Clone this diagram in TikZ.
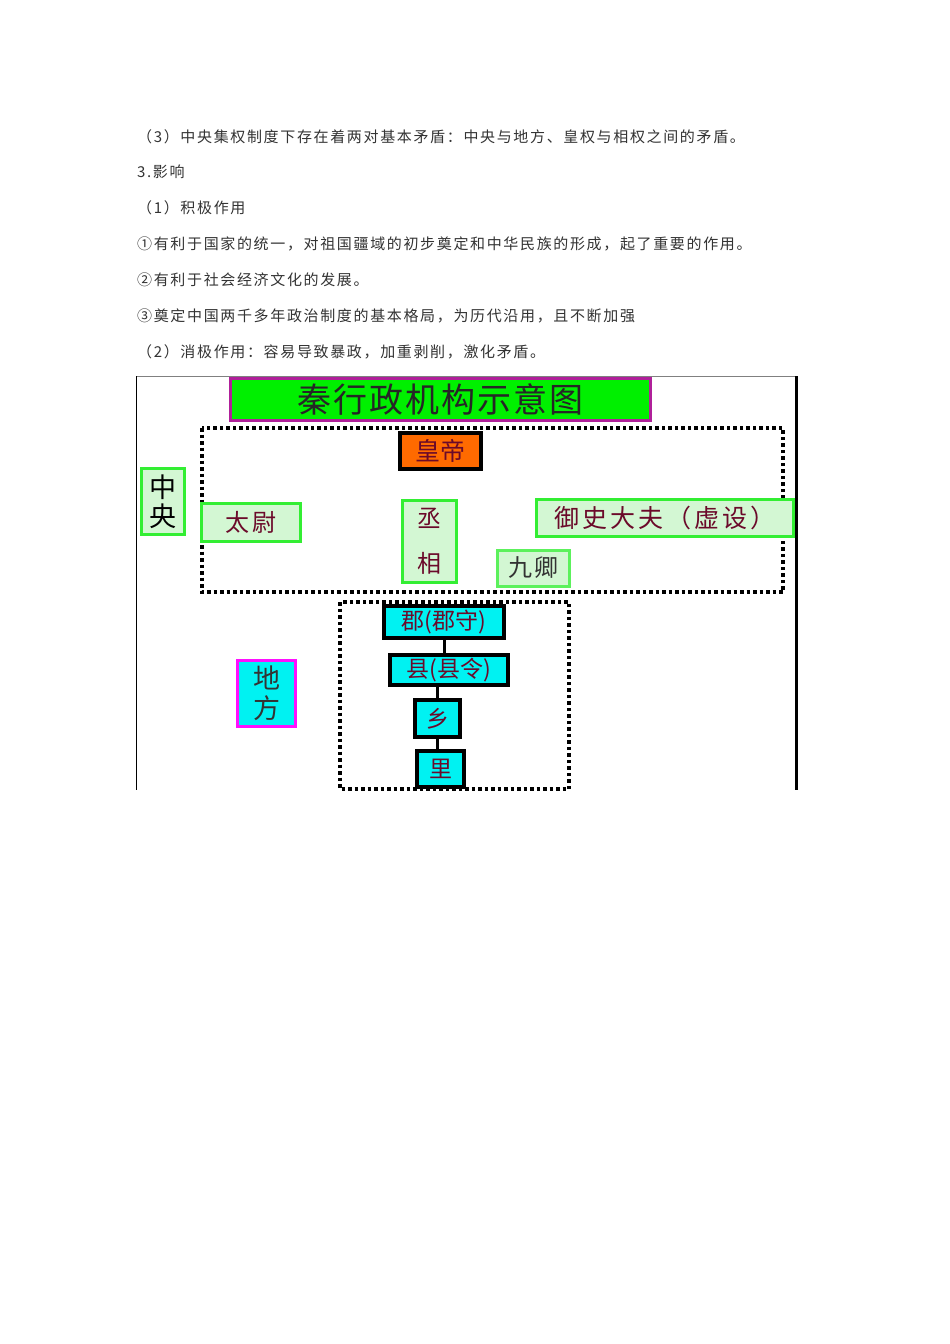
\documentclass[tikz,border=0pt]{standalone}
\usepackage{fontspec}
\setmainfont{Noto Sans CJK SC}
\newfontfamily\cjk{Noto Sans CJK SC}
\newfontfamily\cjkspaced[LetterSpace=11]{Noto Sans CJK SC}
\newfontfamily\cjkwide[LetterSpace=12]{Noto Sans CJK SC}
\newfontfamily\cjktitle[LetterSpace=6]{Noto Sans CJK SC}
\definecolor{maroonx}{HTML}{6B0A2A}
\definecolor{greenb}{HTML}{33EE33}
\definecolor{greenf}{HTML}{D3F7D3}
\definecolor{greentitle}{HTML}{00F000}
\definecolor{purpleb}{HTML}{B0209A}
\definecolor{orangef}{HTML}{FF6A00}
\definecolor{cyanf}{HTML}{00F2F2}
\definecolor{magentab}{HTML}{FF10FF}
\definecolor{textgray}{HTML}{333333}
\begin{document}
\begin{tikzpicture}[x=1pt,y=-1pt,
  para/.style={anchor=base west,inner sep=0pt,font=\cjkspaced\fontsize{15}{16}\selectfont,text=textgray},
  gbox/.style={draw=greenb,fill=greenf,line width=3pt,inner sep=0pt,text=maroonx,font=\cjkwide\fontsize{24}{26}\selectfont,align=center},
  cbox/.style={draw=black,fill=cyanf,line width=3.5pt,inner sep=0pt,text=maroonx,font=\cjk\fontsize{23}{26}\selectfont,align=center},
  dotbox/.style={draw=black,line width=3.5pt,dash pattern=on 3.5pt off 3pt},
  conn/.style={draw=black,line width=3pt}]
\useasboundingbox (0,0) rectangle (950,1344);
\fill[white] (0,0) rectangle (950,1344);
% paragraph text
\node[para] (l1) at (137,142) {（3）中央集权制度下存在着两对基本矛盾：中央与地方、皇权与相权之间的矛盾。};
\node[para] (l2) at (137,177) {3.影响};
\node[para] (l3) at (137,213) {（1）积极作用};
\node[para] (l4) at (137,249) {①有利于国家的统一，对祖国疆域的初步奠定和中华民族的形成，起了重要的作用。};
\node[para] (l5) at (137,285) {②有利于社会经济文化的发展。};
\node[para] (l6) at (137,321) {③奠定中国两千多年政治制度的基本格局，为历代沿用，且不断加强};
\node[para] (l7) at (137,357) {（2）消极作用：容易导致暴政，加重剥削，激化矛盾。};
% frame
\draw[line width=0.8pt,draw=gray] (136,376) -- (796,376);
\draw[line width=0.8pt] (136,376) -- (136,790);
\draw[line width=3pt] (796,376) -- (796,790);
% dotted groups
\draw[dotbox] (202,428) rectangle (783,592);
\draw[dotbox] (340,602) rectangle (569,789);
% title
\node[draw=purpleb,fill=greentitle,line width=3pt,inner sep=0pt,minimum width=420pt,minimum height=42pt,font=\cjktitle\fontsize{34}{36}\selectfont,text=black!85] (title) at (440.5,399.5) {秦行政机构示意图};
% central
\node[draw=black,fill=orangef,line width=4pt,inner sep=0pt,minimum width=81pt,minimum height=36pt,text=maroonx,font=\cjk\fontsize{25}{26}\selectfont] (hd) at (440.5,451) {皇帝};
\node[gbox,minimum width=43pt,minimum height=66pt,text=black,font=\cjk\fontsize{27}{29}\selectfont] (zy) at (163,501.5) {中\\央};
\node[gbox,minimum width=99pt,minimum height=38pt] (tw) at (251,522) {太尉};
\node[gbox,minimum width=54pt,minimum height=82pt,font=\cjk\fontsize{24}{45}\selectfont] (cx) at (429.5,541) {丞\\相};
\node[gbox,minimum width=257pt,minimum height=37pt,font=\cjkwide\fontsize{25}{26}\selectfont,xshift=-4pt,text width=257pt] (ys) at (669,518) {御史大夫（虚设）};
\node[gbox,draw=greenb!80!white,minimum width=72pt,minimum height=36pt,text=textgray] (jq) at (533.5,568) {九卿};
% local
\node[draw=magentab,fill=cyanf,line width=3pt,inner sep=0pt,minimum width=58pt,minimum height=66pt,text=textgray,font=\cjk\fontsize{27}{30}\selectfont,align=center] (df) at (266.5,693.5) {地\\方};
\node[cbox,minimum width=120pt,minimum height=32pt] (jun) at (444,622) {郡(郡守)};
\node[cbox,minimum width=118pt,minimum height=30pt] (xian) at (449,670) {县(县令)};
\node[cbox,minimum width=45pt,minimum height=37pt] (xiang) at (437.5,718.5) {乡};
\node[cbox,minimum width=47pt,minimum height=36pt] (li) at (440.5,769) {里};
\draw[conn] (jun.south) -- (jun.south |- xian.north);
\draw[conn] (xiang.north) -- (xiang.north |- xian.south);
\draw[conn] (xiang.south) -- (xiang.south |- li.north);
\end{tikzpicture}
\end{document}
